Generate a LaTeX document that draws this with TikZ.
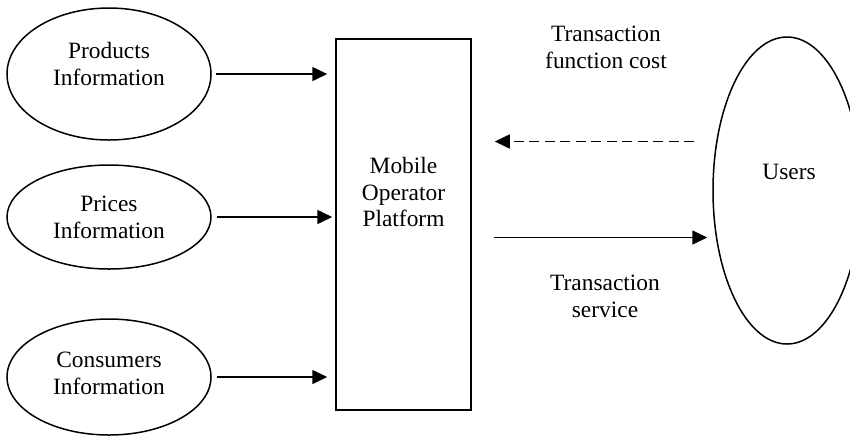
\documentclass[tikz,border=0pt]{standalone}
\usepackage{fontspec}
\setmainfont{Liberation Serif}
\usetikzlibrary{shapes.geometric,arrows.meta}

\begin{document}
\begin{tikzpicture}[x=0.5pt,y=-0.5pt,
    every node/.style={font=\fontsize{11.7}{13.4}\selectfont,align=center},
    info/.style={shape=ellipse,draw=black,line width=0.75pt,inner sep=0pt,minimum width=102pt},
    flow/.style={-{Triangle[length=7.5pt,width=7pt]},black,line width=0.8pt}]

    \useasboundingbox (0,0) rectangle (850,436);

    % information sources
    \node[info,minimum height=66pt,text depth=10pt] (prod) at (109,74)  {Products\\Information};
    \node[info,minimum height=52pt] (price) at (109,217) {Prices\\Information};
    \node[info,minimum height=58pt,text depth=3.5pt] (cons) at (109,377) {Consumers\\Information};

    % platform and users
    \node[shape=rectangle,draw=black,line width=0.75pt,minimum width=67.5pt,minimum height=185.5pt] (plat) at (403.5,224.5) {};
    \node (platlbl) at (403.5,192) {Mobile\\Operator\\Platform};
    \node[shape=ellipse,draw=black,line width=0.75pt,inner sep=0pt,minimum width=74pt,minimum height=153.5pt] (users) at (787,190.5) {};
    \node (userslbl) at (789,172) {Users};

    \draw[flow,shorten <=2pt,shorten >=4pt] (prod.east) -- (prod.east -| plat.west);
    \draw[flow,shorten <=2.5pt,shorten >=1.5pt] (price.east) -- (price.east -| plat.west);
    \draw[flow,shorten <=2.5pt,shorten >=4pt] (cons.east) -- (cons.east -| plat.west);

    \draw[flow,dashed,dash pattern=on 5pt off 2.75pt,shorten <=9pt,shorten >=11.5pt]
        ([yshift=24.5pt]users.west) -- ([yshift=24.5pt]users.west -| plat.east);
    \draw[flow,shorten <=11pt,shorten >=2.5pt]
        ([yshift=-23.5pt]users.west -| plat.east) -- ([yshift=-23.5pt]users.west);

    \node (costlbl) at (606,47.5) {Transaction\\function cost};
    \node (servlbl) at (605,296) {Transaction\\service};
\end{tikzpicture}
\end{document}
